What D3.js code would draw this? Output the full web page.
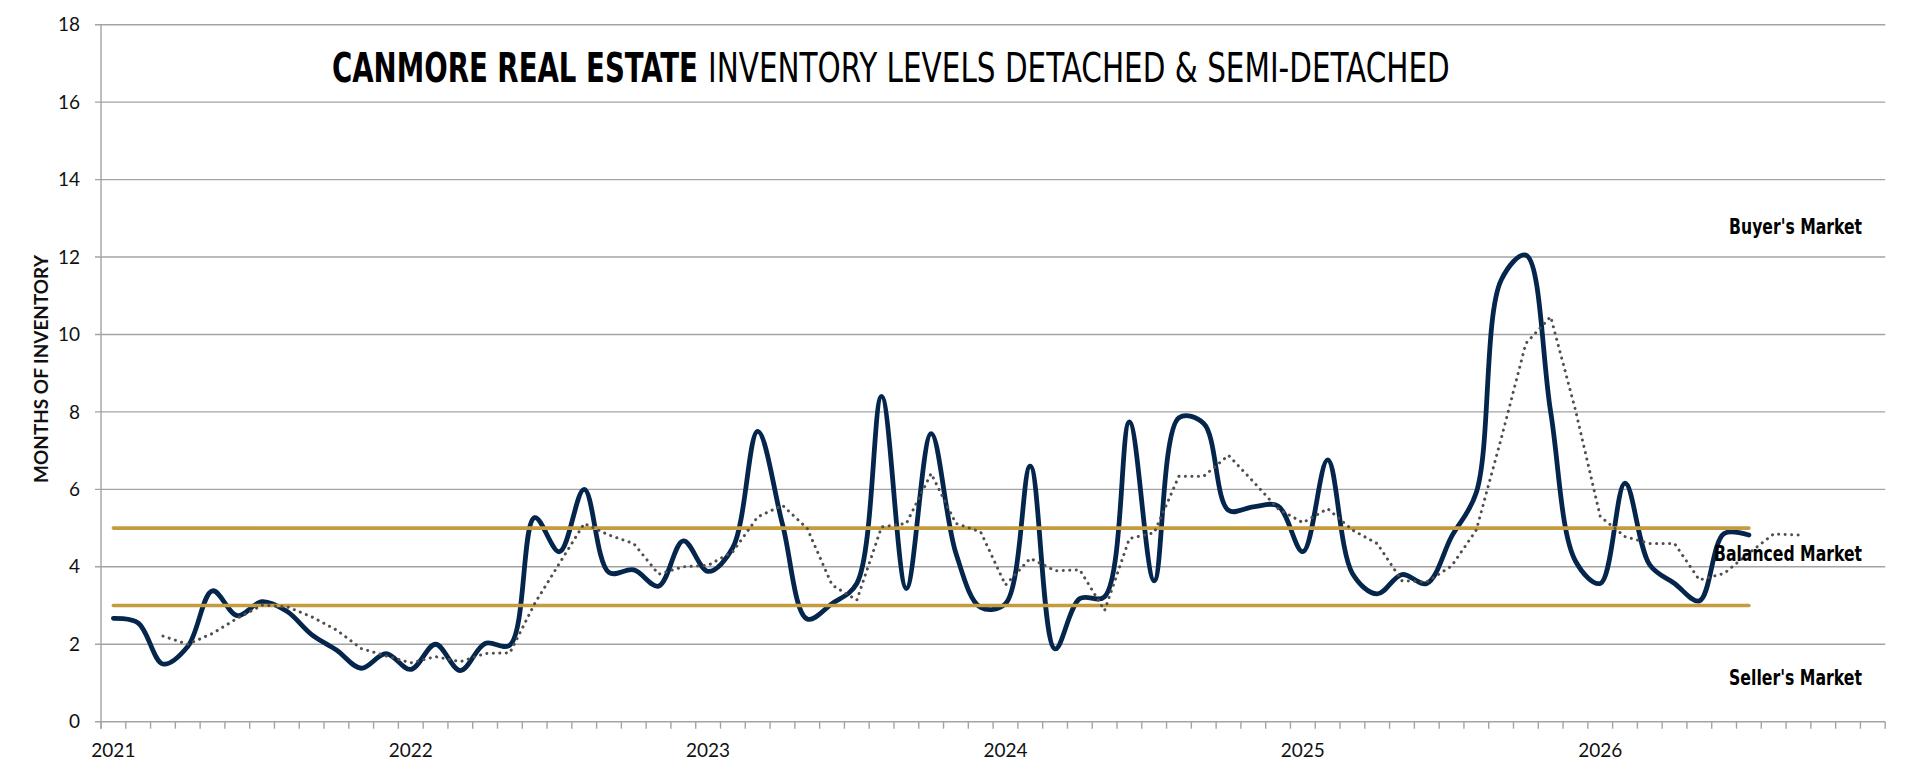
<!DOCTYPE html>
<html><head><meta charset="utf-8">
<script src="https://cdn.jsdelivr.net/npm/d3@7"></script>
<style>html,body{margin:0;padding:0;background:#fff;overflow:hidden}</style>
</head><body><svg id="chart" width="1920" height="778"></svg>
<script>
// ---------- DATA ----------
const yearLabels = ["2021", "2022", "2023", "2024", "2025", "2026"];
const monthCount = 72;               // Jan 2021 .. Dec 2026 (monthly categories)
const yTickValues = [0, 2, 4, 6, 8, 10, 12, 14, 16, 18];

// Months of inventory, monthly, starting Jan 2021
const inventory = [
  2.67, 2.55, 1.49, 1.94, 3.38, 2.74, 3.10, 2.85, 2.25, 1.85, 1.38, 1.76,
  1.35, 2.00, 1.32, 2.02, 1.98, 5.27, 4.39, 6.00, 3.85, 3.92, 3.50, 4.67,
  3.88, 4.50, 7.50, 5.10, 2.65, 3.05, 3.57, 8.40, 3.44, 7.44, 4.35, 2.95,
  3.05, 6.60, 1.88, 3.18, 3.23, 7.74, 3.64, 7.85, 7.70, 5.46, 5.55, 5.57,
  4.39, 6.76, 3.83, 3.30, 3.80, 3.57, 4.78, 5.92, 11.40, 12.05, 8.00, 4.15,
  3.57, 6.16, 4.05, 3.57, 3.12, 4.86, 4.82
];

// 3-month moving average (dotted), first value at month index 2 (Mar 2021)
const movingAverageStart = 2;
const movingAverage = [
  2.21, 2.00, 2.28, 2.67, 3.01, 2.97, 2.71, 2.37, 1.89, 1.70,
  1.52, 1.68, 1.55, 1.76, 1.78, 3.05, 4.09, 5.12, 4.82, 4.60, 3.81, 4.00,
  4.04, 4.39, 5.29, 5.59, 4.99, 3.53, 3.14, 5.03, 5.12, 6.41, 5.12, 4.90,
  3.53, 4.22, 3.90, 3.92, 2.87, 4.73, 4.88, 6.34, 6.34, 6.88, 6.20, 5.50,
  5.14, 5.50, 4.95, 4.60, 3.64, 3.61, 4.02, 4.95, 7.30, 9.77, 10.46, 8.05,
  5.30, 4.78, 4.60, 4.60, 3.66, 3.83, 4.35, 4.85, 4.82
];

// Balanced-market band limits (months of inventory)
const bandLevels = [5, 3];
const zoneLabels = ["Buyer's Market", "Balanced Market", "Seller's Market"];
const zoneValues = [12.6, 4.15, 0.95];
const titleBold = "CANMORE REAL ESTATE";
const titleRest = "INVENTORY LEVELS DETACHED & SEMI-DETACHED";
const yAxisTitle = "MONTHS OF INVENTORY";

// ---------- LAYOUT ----------
const plotLeft = 101, plotRight = 1885.2, plotTop = 24.7, plotBottom = 721.7;
const svg = d3.select("#chart");

const x = d3.scaleBand().domain(d3.range(monthCount)).range([plotLeft, plotRight]).paddingInner(0).paddingOuter(0);
const xc = i => x(i) + x.bandwidth() / 2;
const y = d3.scaleLinear().domain([0, 18]).range([plotBottom, plotTop]);

const gridColor = "#a3a3a3";

// text squeezed horizontally to a target width (mimics a condensed face)
function fittedText(parent, str, px, py, width, opts) {
  const g = parent.append("g");
  const t = g.append("text").attr("x", 0).attr("y", 0)
    .attr("font-family", opts.family).attr("font-size", opts.size)
    .attr("font-weight", opts.weight || "normal").attr("fill", opts.fill || "#000")
    .attr("text-anchor", opts.anchor || "start").text(str);
  const w = t.node().getComputedTextLength();
  const s = width / w;
  g.attr("transform", `translate(${px},${py})${opts.rotate ? " rotate(" + opts.rotate + ")" : ""} scale(${s},1)`);
  return g;
}

// gridlines
svg.append("g").selectAll("line").data(yTickValues).join("line")
  .attr("x1", plotLeft - 6).attr("x2", plotRight)
  .attr("y1", d => y(d)).attr("y2", d => y(d))
  .attr("stroke", gridColor).attr("stroke-width", 1.4);

// y axis line
svg.append("line").attr("x1", plotLeft).attr("x2", plotLeft).attr("y1", plotTop).attr("y2", plotBottom + 7)
  .attr("stroke", gridColor).attr("stroke-width", 1.4);

// y tick labels
svg.append("g").selectAll("text").data(yTickValues).join("text")
  .attr("x", 80).attr("y", d => y(d)).attr("dy", "0.35em")
  .attr("text-anchor", "end")
  .attr("font-family", "Lato, 'Open Sans', sans-serif").attr("font-size", 19)
  .attr("fill", "#111").text(d => d);

// x ticks at category boundaries
svg.append("g").selectAll("line").data(d3.range(monthCount + 1)).join("line")
  .attr("x1", i => plotLeft + i * x.bandwidth()).attr("x2", i => plotLeft + i * x.bandwidth())
  .attr("y1", plotBottom).attr("y2", plotBottom + 7)
  .attr("stroke", gridColor).attr("stroke-width", 1.4);

// x labels (January of each year)
svg.append("g").selectAll("text").data(yearLabels).join("text")
  .attr("x", (d, k) => xc(k * 12)).attr("y", 757)
  .attr("text-anchor", "middle")
  .attr("font-family", "Lato, 'Open Sans', sans-serif").attr("font-size", 19)
  .attr("fill", "#111").text(d => d);

// y axis title
fittedText(svg, yAxisTitle, 48, 369, 228,
  { family: "Lato, 'Liberation Sans', sans-serif", size: 19, weight: "bold", fill: "#111", anchor: "middle", rotate: -90 });

// solid series
const smooth = d3.line().x((d, i) => xc(i)).y(d => y(d)).curve(d3.curveCatmullRom.alpha(0.5));
svg.append("path").datum(inventory).attr("d", smooth)
  .attr("fill", "none").attr("stroke", "#05264c").attr("stroke-width", 4.8)
  .attr("stroke-linejoin", "round").attr("stroke-linecap", "round");

// balanced market band lines
svg.append("g").selectAll("path").data(bandLevels).join("path")
  .attr("d", lvl => d3.line().x(i => xc(i)).y(() => y(lvl))(d3.range(inventory.length)))
  .attr("fill", "none").attr("stroke", "#c49b3e").attr("stroke-width", 3.6)
  .attr("stroke-linecap", "round");

// dotted moving average
const maLine = d3.line().x((d, k) => xc(k + movingAverageStart)).y(d => y(d));
svg.append("path").datum(movingAverage).attr("d", maLine)
  .attr("fill", "none").attr("stroke", "#4f4f4f").attr("stroke-width", 3)
  .attr("stroke-dasharray", "0.1 6.4").attr("stroke-linecap", "round");

// zone labels
const condensedFont = "'Liberation Sans Narrow', 'DejaVu Sans Condensed', 'Liberation Sans', sans-serif";
const zoneWidths = [133, 148, 133];
zoneLabels.forEach((lab, k) => {
  fittedText(svg, lab, 1862, y(zoneValues[k]), zoneWidths[k],
    { family: condensedFont, size: 22, weight: "bold", anchor: "end" });
});

// title
fittedText(svg, titleBold, 332, 81.7, 366, { family: condensedFont, size: 41, weight: "bold" });
fittedText(svg, titleRest, 708, 81.7, 742, { family: condensedFont, size: 41, weight: "normal" });
</script></body></html>
